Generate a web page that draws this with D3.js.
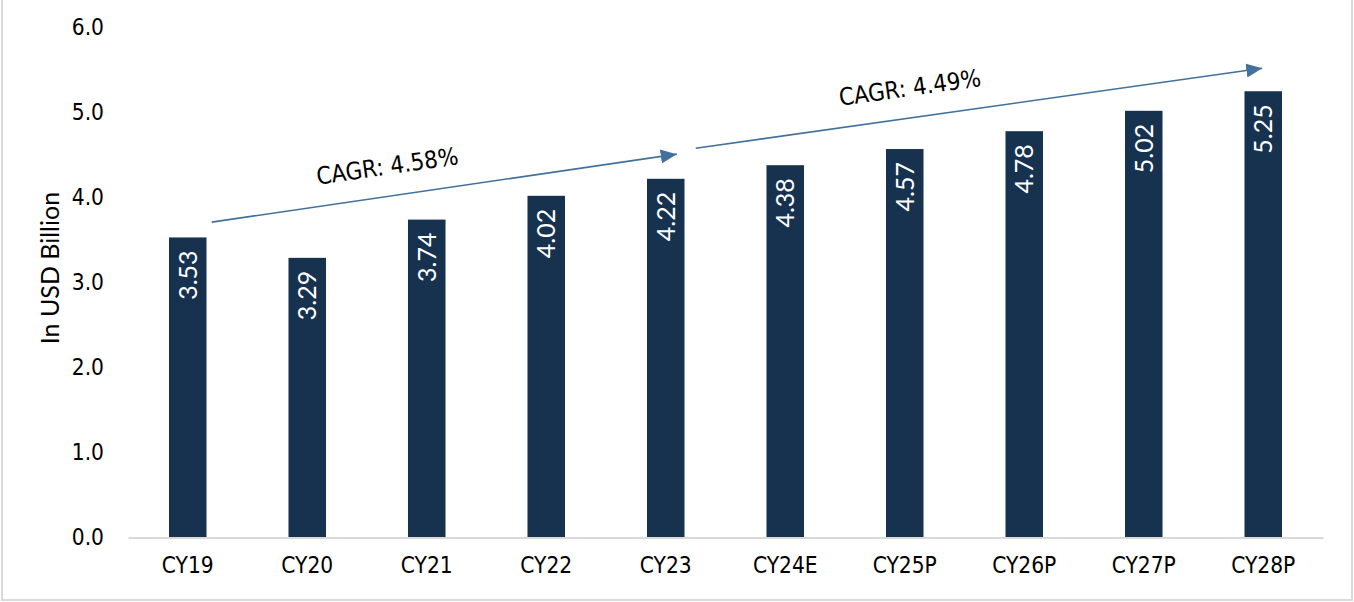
<!DOCTYPE html>
<html>
<head>
<meta charset="utf-8">
<script src="https://cdn.jsdelivr.net/npm/d3@7"></script>
<style>
  body { margin: 0; background: #fff; }
  svg { display: block; }
</style>
</head>
<body>
<script>
var width = 1354, height = 602;

// data
var years = ["CY19", "CY20", "CY21", "CY22", "CY23", "CY24E", "CY25P", "CY26P", "CY27P", "CY28P"];
var values = [3.53, 3.29, 3.74, 4.02, 4.22, 4.38, 4.57, 4.78, 5.02, 5.25];
var yTicks = [0, 1, 2, 3, 4, 5, 6];
var cagrLabels = ["CAGR: 4.58%", "CAGR: 4.49%"];
// arrows: from / to category with the value level the arrow sits at
var cagrFrom = ["CY19", "CY23"], cagrFromVal = [3.71, 4.58];
var cagrTo = ["CY23", "CY28P"], cagrToVal = [4.51, 5.52];

var margin = { left: 128, right: 31, top: 27.5, bottom: 64.5 };

var svg = d3.select("body").append("svg")
    .attr("width", width)
    .attr("height", height);

// light frame round the chart
svg.append("rect")
    .attr("x", 2).attr("y", -2)
    .attr("width", width - 4).attr("height", height)
    .attr("fill", "none")
    .attr("stroke", "#d9d9d9")
    .attr("stroke-width", 2);

var x = d3.scaleBand()
    .domain(years)
    .range([margin.left, width - margin.right])
    .paddingInner(0.686)
    .paddingOuter(0.343);

var y = d3.scaleLinear()
    .domain([0, 6])
    .range([height - margin.bottom, margin.top]);

var tickFont = "'DejaVu Sans Condensed', 'DejaVu Sans', sans-serif";
var labelFont = "Lato, 'Open Sans', sans-serif";

// y tick labels (no axis line)
var yAxis = svg.append("g")
    .attr("transform", "translate(" + margin.left + ",0)")
    .call(d3.axisLeft(y).tickValues(yTicks).tickFormat(d3.format(".1f")).tickSize(0).tickPadding(24));
yAxis.select(".domain").remove();
yAxis.selectAll("text")
    .style("font-family", tickFont)
    .style("font-size", "22.5px")
    .attr("fill", "#000");

// bars
svg.selectAll("rect.bar")
    .data(values)
    .enter()
    .append("rect")
    .attr("class", "bar")
    .attr("x", function (d, i) { return x(years[i]); })
    .attr("y", function (d) { return y(d); })
    .attr("width", x.bandwidth())
    .attr("height", function (d) { return y(0) - y(d); })
    .attr("fill", "#17324f");

// x axis
var xAxis = svg.append("g")
    .attr("transform", "translate(0," + y(0) + ")")
    .call(d3.axisBottom(x).tickSize(0).tickPadding(20));
xAxis.select(".domain")
    .attr("stroke", "#d9d9d9")
    .attr("stroke-width", 2);
xAxis.selectAll("text")
    .style("font-family", tickFont)
    .style("font-size", "22.5px")
    .attr("fill", "#000");

// value labels inside the bars
svg.selectAll("text.val")
    .data(values)
    .enter()
    .append("text")
    .attr("class", "val")
    .attr("transform", function (d, i) {
        return "translate(" + (x(years[i]) + x.bandwidth() / 2) + "," + (y(d) + 13) + ") rotate(-90)";
    })
    .attr("text-anchor", "end")
    .attr("dy", "0.36em")
    .attr("fill", "#fff")
    .style("font-family", labelFont)
    .style("font-size", "25px")
    .text(function (d) { return d.toFixed(2); });

// y title
svg.append("text")
    .attr("transform", "translate(50," + y(3.17) + ") rotate(-90)")
    .attr("text-anchor", "middle")
    .attr("dy", "0.36em")
    .style("font-family", labelFont)
    .style("font-size", "25px")
    .attr("fill", "#000")
    .text("In USD Billion");

// CAGR arrows
svg.append("defs").append("marker")
    .attr("id", "head")
    .attr("markerUnits", "userSpaceOnUse")
    .attr("viewBox", "0 0 16 14")
    .attr("refX", 16).attr("refY", 7)
    .attr("markerWidth", 16).attr("markerHeight", 14)
    .attr("orient", "auto")
    .append("path")
    .attr("d", "M0,0 L16,7 L0,14 Z")
    .attr("fill", "#41719c");

var startOff = [24, 30], endOff = [11, -1];

cagrLabels.forEach(function (lab, i) {
    var x1 = x(cagrFrom[i]) + x.bandwidth() / 2 + startOff[i];
    var x2 = x(cagrTo[i]) + x.bandwidth() / 2 + endOff[i];
    var y1 = y(cagrFromVal[i]), y2 = y(cagrToVal[i]);

    svg.append("line")
        .attr("x1", x1).attr("y1", y1)
        .attr("x2", x2).attr("y2", y2)
        .attr("stroke", "#41719c")
        .attr("stroke-width", 1.6)
        .attr("marker-end", "url(#head)");

    var ang = Math.atan2(y2 - y1, x2 - x1) * 180 / Math.PI;
    var mx = x1 + (x2 - x1) * (i == 0 ? 0.38 : 0.38);
    var my = y1 + (y2 - y1) * (i == 0 ? 0.38 : 0.38) - 22;
    svg.append("text")
        .attr("transform", "translate(" + mx + "," + my + ") rotate(" + ang + ")")
        .attr("text-anchor", "middle")
        .style("font-family", tickFont)
        .style("font-size", "24px")
        .attr("fill", "#000")
        .text(lab);
});
</script>
</body>
</html>
